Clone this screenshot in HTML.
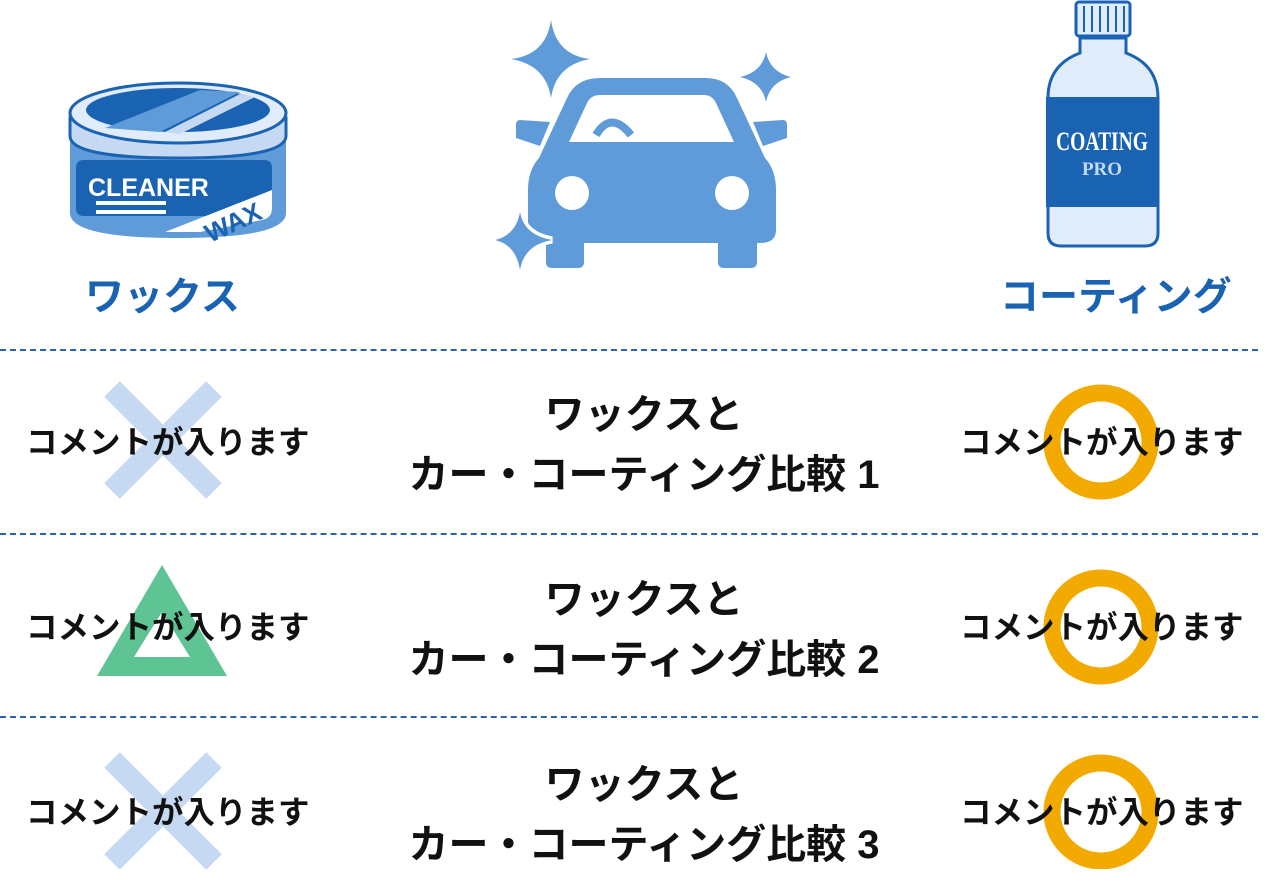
<!DOCTYPE html>
<html><head><meta charset="utf-8"><style>
body{margin:0;width:1271px;height:869px;background:#fff;position:relative;overflow:hidden;font-family:"Liberation Sans","Noto Sans CJK JP",sans-serif;font-weight:bold}
.t{position:absolute;white-space:nowrap;color:#111}
.c{font-size:31.5px;line-height:30px}
.m{font-size:40px;line-height:60px;text-align:center;width:700px;left:294px}
.h{font-size:39px;color:#1a62b2;position:absolute;white-space:nowrap}
.d{position:absolute;left:0;width:1258px;border-top:2px dashed #2a64b0}
svg{position:absolute;left:0;top:0}
</style></head><body>
<svg width="1271" height="869">
<!-- wax can -->
<path d="M70 118 v95 q0 25 108 25 q108 0 108 -25 v-95z" fill="#5f9bd8"/>
<path d="M84 160 h180 q8 0 8 8 v40 q0 8 -8 8 h-180 q-8 0 -8-8 v-40 q0-8 8-8z" fill="#1a62b2"/>
<path d="M165 232 L272 190 v18 q0 10 -10 12 L200 232z" fill="#fff"/>
<text x="88" y="196" font-family="Liberation Sans" font-size="25" fill="#fff" font-weight="bold">CLEANER</text>
<text x="200" y="232" font-family="Liberation Sans" font-size="26" fill="#1a62b2" font-weight="bold" transform="rotate(-25 230 215)">WAX</text>
<rect x="96" y="201" width="70" height="4" fill="#fff"/><rect x="96" y="210" width="70" height="4" fill="#fff"/>
<path d="M70 118 v18 q0 22 108 22 q108 0 108-22 v-18z" fill="#c5daf2" stroke="#1a62b2" stroke-width="3"/>
<ellipse cx="178" cy="113" rx="108" ry="30" fill="#e0ecf9" stroke="#1a62b2" stroke-width="3"/>
<ellipse cx="178" cy="110" rx="92" ry="22" fill="#1a62b2"/>
<path d="M105 128 L200 90 L240 92 L160 132z" fill="#5f9bd8"/>
<path d="M165 132 L240 94 L255 97 L180 134z" fill="#c5daf2"/>
<!-- car -->
<g fill="#5f9bd8">
<path d="M551 20 Q556 55 590 59 Q556 65 551 98 Q546 65 511 59 Q546 55 551 20z"/>
<path d="M766 52 Q770 72 791 77 Q770 82 766 102 Q762 82 740 77 Q762 72 766 52z"/>
<path d="M600 78 H706 Q728 78 737 98 L765 158 Q776 170 776 190 V230 Q776 243 760 243 H757 V262 Q757 268 751 268 H724 Q718 268 718 262 V243 H584 V262 Q584 268 578 268 H552 Q546 268 546 262 V243 H540 Q528 243 528 230 V190 Q528 170 539 158 L567 98 Q576 78 600 78Z"/>
<path d="M520 120 Q516 120 516 125 V138 L540 146 L550 122z"/>
<path d="M783 120 Q787 120 787 125 V138 L763 146 L753 122z"/>
<path d="M520 212 Q524 235 552 240 Q524 245 520 270 Q516 245 495 240 Q516 235 520 212z" stroke="#fff" stroke-width="7" paint-order="stroke"/>
</g>
<path d="M600 95 H704 Q712 95 716 103 L734 142 H569 L587 103 Q591 95 600 95z" fill="#fff"/>
<path d="M596 135 Q611 110 631 135" fill="none" stroke="#5f9bd8" stroke-width="8"/>
<circle cx="572" cy="193" r="17" fill="#fff"/><circle cx="732" cy="193" r="17" fill="#fff"/>
<!-- bottle -->
<rect x="1076" y="2" width="54" height="34" rx="3" fill="#e0ecf9" stroke="#1a62b2" stroke-width="3"/>
<g stroke="#1a62b2" stroke-width="2"><line x1="1084" y1="6" x2="1084" y2="32"/><line x1="1092" y1="6" x2="1092" y2="32"/><line x1="1100" y1="6" x2="1100" y2="32"/><line x1="1108" y1="6" x2="1108" y2="32"/><line x1="1116" y1="6" x2="1116" y2="32"/><line x1="1124" y1="6" x2="1124" y2="32"/></g>
<path d="M1080 38 h46 v15 q32 12 32 45 v135 q0 13 -13 13 h-84 q-13 0 -13-13 v-135 q0-33 32-45z" fill="#e0ecf9" stroke="#1a62b2" stroke-width="3"/>
<rect x="1046" y="97" width="112" height="110" fill="#1a62b2"/>
<text x="1056" y="150" font-family="Liberation Serif" font-size="26" font-weight="bold" fill="#fff" textLength="92" lengthAdjust="spacingAndGlyphs">COATING</text>
<text x="1102" y="175" text-anchor="middle" font-family="Liberation Serif" font-size="19" font-weight="bold" fill="#c5daf2">PRO</text>
<!-- symbols -->
<g stroke="#c5d9f2" stroke-width="22"><line x1="112" y1="389" x2="214" y2="491"/><line x1="214" y1="389" x2="112" y2="491"/>
<line x1="112" y1="760" x2="214" y2="862"/><line x1="214" y1="760" x2="112" y2="862"/></g>
<path d="M162 565 L227 676 H97z M162 612 L134 657 H190z" fill="#5fc494" fill-rule="evenodd"/>
<g fill="none" stroke="#f2a900" stroke-width="17"><circle cx="1101" cy="442" r="49"/><circle cx="1101" cy="627" r="49"/><circle cx="1101" cy="812" r="49"/></g>
</svg>
<div class="h" style="left:85px;top:266px">ワックス</div>
<div class="h" style="left:1000px;top:266px">コーティング</div>
<div class="d" style="top:349px"></div><div class="d" style="top:533px"></div><div class="d" style="top:716px"></div>
<div class="t c" style="left:26px;top:427px">コメントが入ります</div>
<div class="t c" style="left:26px;top:612px">コメントが入ります</div>
<div class="t c" style="left:26px;top:797px">コメントが入ります</div>
<div class="t c" style="left:960px;top:427px">コメントが入ります</div>
<div class="t c" style="left:960px;top:612px">コメントが入ります</div>
<div class="t c" style="left:960px;top:797px">コメントが入ります</div>
<div class="t m" style="top:385px">ワックスと<br>カー・コーティング比較 1</div>
<div class="t m" style="top:570px">ワックスと<br>カー・コーティング比較 2</div>
<div class="t m" style="top:755px">ワックスと<br>カー・コーティング比較 3</div>
</body></html>
